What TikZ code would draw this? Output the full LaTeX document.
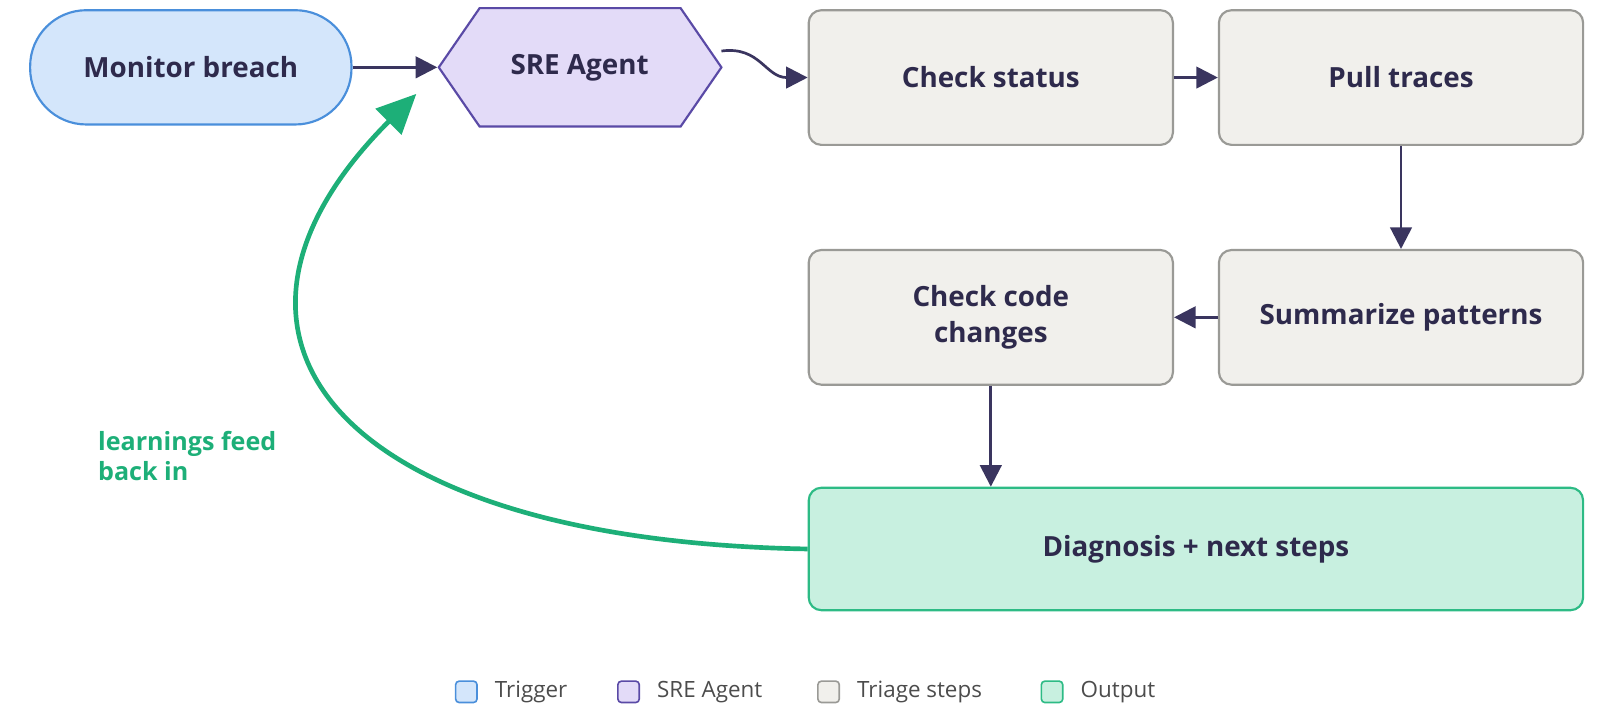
\documentclass[tikz,border=0pt]{standalone}
\usepackage{fontspec}
\setmainfont{Open Sans}
\usetikzlibrary{arrows.meta,positioning}
\definecolor{trigfill}{HTML}{D4E6FB}
\definecolor{trigline}{HTML}{4A8FDB}
\definecolor{agfill}{HTML}{E3DBF8}
\definecolor{agline}{HTML}{5A4AA6}
\definecolor{stepfill}{HTML}{F1F0EC}
\definecolor{stepline}{HTML}{9A9A96}
\definecolor{outfill}{HTML}{C8F0E0}
\definecolor{outline}{HTML}{2DBB85}
\definecolor{navy}{HTML}{3A355F}
\definecolor{loopgreen}{HTML}{1DAF78}
\tikzset{
  box/.style={draw=stepline, fill=stepfill, line width=1.2pt, rounded corners=7pt,
    align=center, font=\bfseries\fontsize{15.5}{20}\selectfont, text=navy!80!black},
  triage/.style={box, minimum width=7.14cm, minimum height=2.64cm},
  arr/.style={draw=navy, line width=1.5pt, -{Triangle[length=12pt,width=12pt]}},
  legbox/.style={draw, line width=0.9pt, rounded corners=2pt, minimum size=0.42cm, inner sep=0pt},
  legtext/.style={font=\fontsize{12.5}{15}\selectfont, text=black!70, anchor=west}
}
\begin{document}
\begin{tikzpicture}[x=0.02cm, y=-0.02cm]
\useasboundingbox (0,0) rectangle (1568,706.6);

% Kjeden
\node[box, draw=trigline, fill=trigfill, rounded corners=1.1cm, minimum width=6.3cm, minimum height=2.24cm] (monitor) at (187,66) {Monitor breach};
\filldraw[draw=agline, fill=agfill, line width=1.2pt] (430,66) -- (470,8) -- (667,8) -- (707,66) -- (667,124) -- (470,124) -- cycle;
\node[box, draw=none, fill=none, minimum width=5.54cm, minimum height=2.32cm] (agent) at (568,66) {SRE Agent};
\coordinate (agentout) at (707,50);

\node[triage] (status) at (971,76) {Check status};
\node[triage] (traces) at (1373,76) {Pull traces};
\node[triage] (summary) at (1373,311) {Summarize patterns};
\node[triage] (code) at (971,311) {Check code\\changes};
\node[box, draw=outline, fill=outfill, minimum width=15.18cm, minimum height=2.4cm] (diag) at (1172,538) {Diagnosis + next steps};

% Piler
\draw[arr] (monitor) -- (agent);
\draw[arr] (agentout) .. controls (745,45) and (750,76) .. (status.west);
\draw[arr] (status) -- (traces);
\draw[arr] (traces) -- (summary);
\draw[arr] (summary) -- (code);
\draw[arr] (code) -- (code |- diag.north);

% Tilbakekobling
\draw[draw=loopgreen, line width=2.6pt, -{Triangle[length=22pt,width=20pt]}]
  (diag.west) .. controls (330,530) and (170,330) .. (408,92);
\node[font=\bfseries\fontsize{14}{17}\selectfont, text=loopgreen, align=left, anchor=north west] (learn) at (90,416) {learnings feed\\back in};

% Forklaring
\node[legbox, draw=trigline, fill=trigfill] (l1) at (457,678) {};
\node[legtext, right=6pt of l1] {Trigger};
\node[legbox, draw=agline, fill=agfill] (l2) at (616,678) {};
\node[legtext, right=6pt of l2] {SRE Agent};
\node[legbox, draw=stepline, fill=stepfill] (l3) at (812,678) {};
\node[legtext, right=6pt of l3] {Triage steps};
\node[legbox, draw=outline, fill=outfill] (l4) at (1031,678) {};
\node[legtext, right=6pt of l4] {Output};
\end{tikzpicture}
\end{document}
